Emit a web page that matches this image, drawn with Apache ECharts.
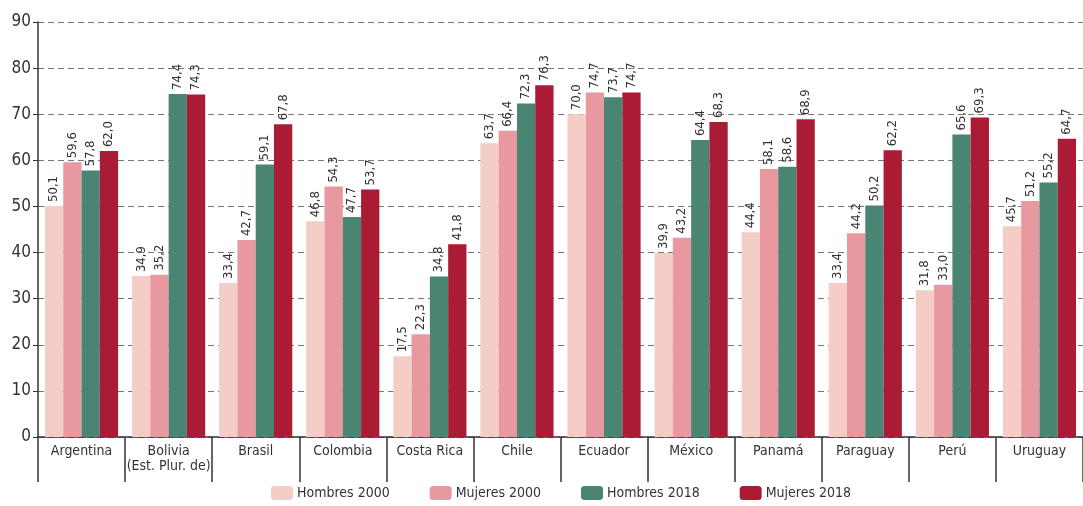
<!DOCTYPE html>
<html><head><meta charset="utf-8">
<script src="https://cdn.jsdelivr.net/npm/echarts@6/dist/echarts.min.js"></script>
<style>html,body{margin:0;padding:0;background:#fff}#c{width:1083px;height:506px}</style>
</head><body><div id="c"></div>
<script>
const categories = ['Argentina','Bolivia\n(Est. Plur. de)','Brasil','Colombia','Costa Rica','Chile','Ecuador','México','Panamá','Paraguay','Perú','Uruguay'];
const hombres2000 = [50.1,34.9,33.4,46.8,17.5,63.7,70.0,39.9,44.4,33.4,31.8,45.7];
const mujeres2000 = [59.6,35.2,42.7,54.3,22.3,66.4,74.7,43.2,58.1,44.2,33.0,51.2];
const hombres2018 = [57.8,74.4,59.1,47.7,34.8,72.3,73.7,64.4,58.6,50.2,65.6,55.2];
const mujeres2018 = [62.0,74.3,67.8,53.7,41.8,76.3,74.7,68.3,68.9,62.2,69.3,64.7];
const seriesNames = ['Hombres 2000','Mujeres 2000','Hombres 2018','Mujeres 2018'];
const yTicks = [0,10,20,30,40,50,60,70,80,90];

const FONT = "'DejaVu Sans Condensed','Liberation Sans Narrow',sans-serif";
const colors = ['#f5cdc7','#e8999f','#4a8473','#aa1c35'];
const chart = echarts.init(document.getElementById('c'), null, {renderer:'canvas'});
const mk = (name, data, i) => ({
  name, type:'bar', data, barGap:'0%', barCategoryGap:'16%',
  itemStyle:{color:colors[i]},
  label:{show:true, position:'top', rotate:90, align:'left', verticalAlign:'middle', distance:4,
    fontFamily:FONT, fontSize:13, color:'#333',
    formatter:p=>p.value.toFixed(1).replace('.',',')}
});
chart.setOption({
  animation:false,
  color:colors,
  grid:{left:38, right:0, top:22, bottom:69, containLabel:false},
  legend:{bottom:1, left:266, itemWidth:22, itemHeight:14, itemGap:40,
    textStyle:{fontFamily:FONT, fontSize:14, color:'#333', padding:[0,0,0,-1]},
    data:seriesNames},
  xAxis:{type:'category', data:categories,
    axisLine:{lineStyle:{color:'#333', width:1.5}},
    axisTick:{show:true, length:45, lineStyle:{color:'#333', width:1.5}},
    axisLabel:{fontFamily:FONT, fontSize:14, color:'#333', margin:7, lineHeight:15, interval:0}},
  yAxis:{type:'value', min:0, max:90, interval:10,
    axisLine:{show:true, lineStyle:{color:'#333', width:1.5}},
    axisTick:{show:true, length:5, lineStyle:{color:'#333'}},
    axisLabel:{fontFamily:FONT, fontSize:17, color:'#333', margin:7,
      formatter:v=>yTicks.includes(v)?String(v):''},
    splitLine:{show:true, lineStyle:{color:'#777', type:[6,4], width:1}}},
  series:[mk(seriesNames[0],hombres2000,0),mk(seriesNames[1],mujeres2000,1),mk(seriesNames[2],hombres2018,2),mk(seriesNames[3],mujeres2018,3)]
});
</script></body></html>
